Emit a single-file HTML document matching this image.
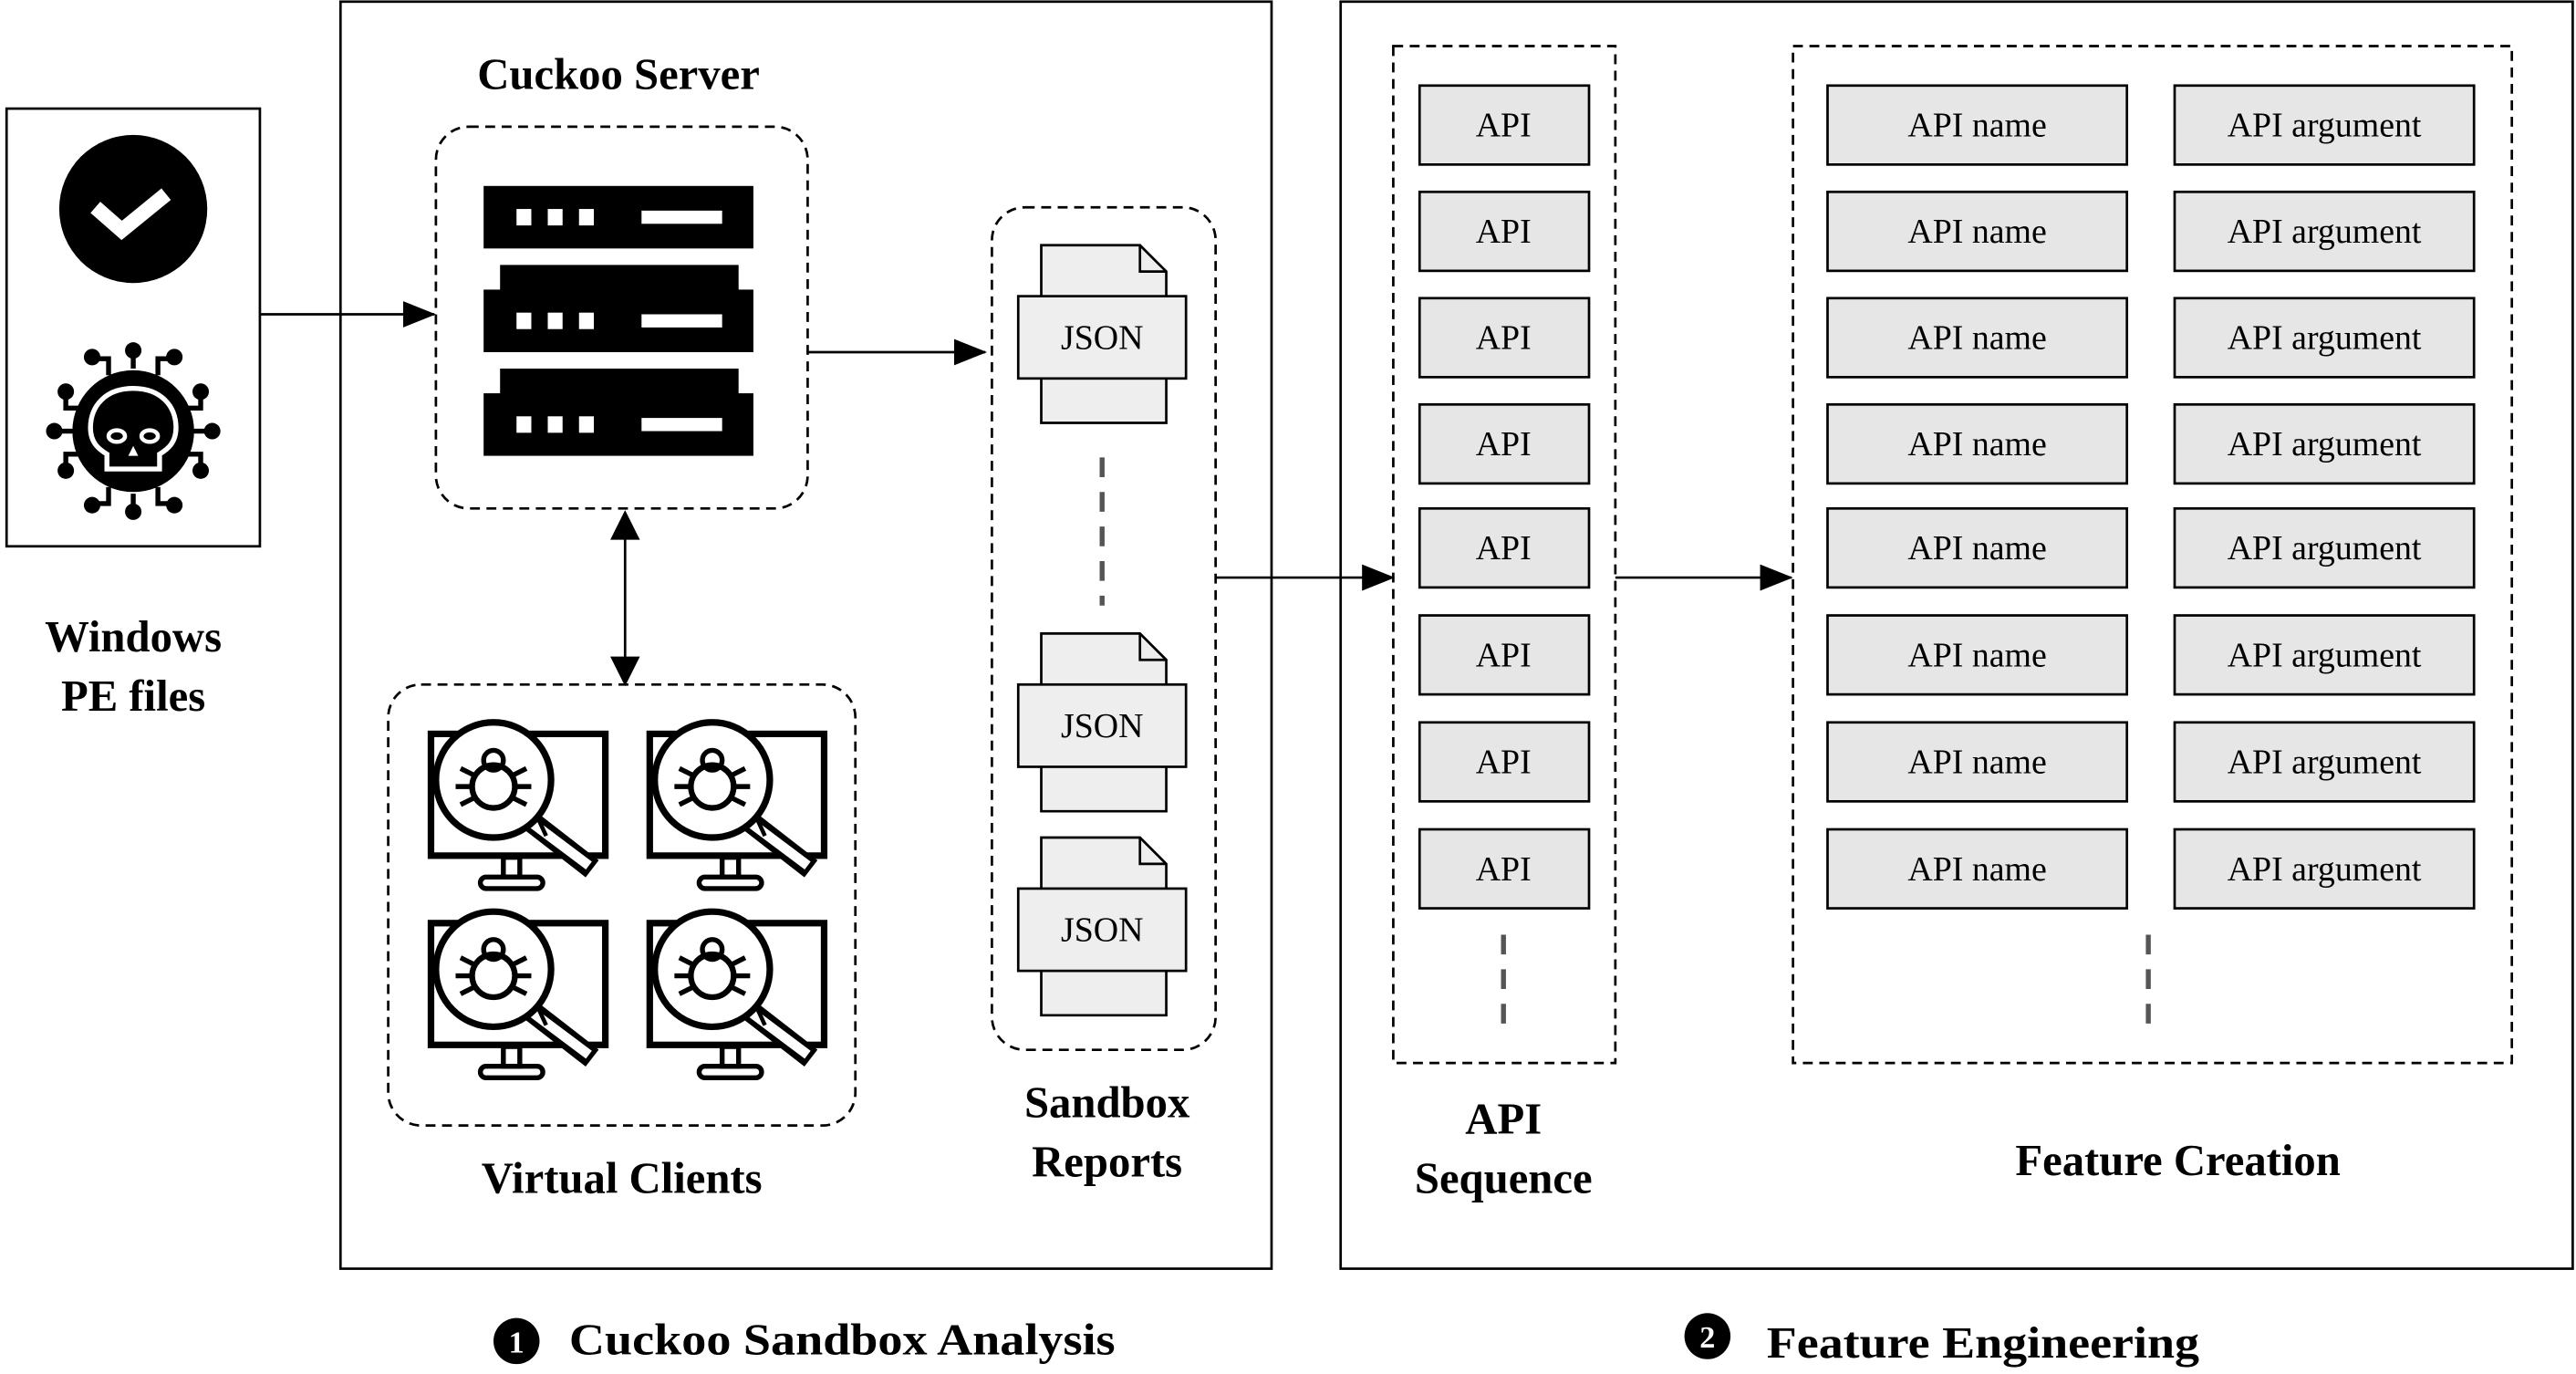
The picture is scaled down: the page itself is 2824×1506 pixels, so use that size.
<!DOCTYPE html>
<html><head><meta charset="utf-8"><style>
html,body{margin:0;padding:0;background:#fff}
svg{display:block;font-family:"Liberation Serif","Times New Roman",serif}
text{font-family:"Liberation Serif","Times New Roman",serif}
.b{font-weight:bold;font-size:27px}
.r{font-size:21px}
</style></head><body>
<svg width="2824" height="1506" viewBox="0 0 1566 835" preserveAspectRatio="none" xmlns="http://www.w3.org/2000/svg" font-family="Liberation Serif, serif">
<defs>
<marker id="ah" markerWidth="20" markerHeight="16" refX="19" refY="8" orient="auto" markerUnits="userSpaceOnUse" viewBox="0 0 20 16"><path d="M0,0 L20,8 L0,16z" fill="#000"/></marker>
<g id="mon">
 <rect x="262" y="446" width="106" height="74" fill="none" stroke="#000" stroke-width="4"/>
 <rect x="306" y="521" width="10" height="12" fill="none" stroke="#000" stroke-width="3"/>
 <rect x="292" y="533" width="38" height="7" rx="3.5" fill="none" stroke="#000" stroke-width="3"/>
 <line x1="320" y1="497" x2="360" y2="528" stroke="#000" stroke-width="13"/>
 <line x1="322" y1="499" x2="358" y2="526" stroke="#fff" stroke-width="6"/>
 <line x1="326" y1="495" x2="332" y2="508" stroke="#000" stroke-width="2.5"/>
 <circle cx="300" cy="474" r="35" fill="#fff" stroke="#000" stroke-width="4"/>
 <circle cx="300" cy="478" r="13" fill="none" stroke="#000" stroke-width="3.5"/>
 <circle cx="300" cy="462" r="6" fill="none" stroke="#000" stroke-width="3"/>
 <path d="M280,467 l8,4 M277,478 h10 M280,489 l8,-4 M320,467 l-8,4 M323,478 h-10 M320,489 l-8,-4" stroke="#000" stroke-width="3" fill="none"/>
</g>
<g id="doc">
 <path d="M633,0 h60 l16,16 v92 h-76z" fill="#eee" stroke="#000" stroke-width="1.5"/>
 <path d="M693,0 v16 h16" fill="none" stroke="#000" stroke-width="1.5"/>
 <rect x="619" y="31" width="102" height="50" fill="#eee" stroke="#000" stroke-width="1.5"/>
</g>
</defs>

<rect x="4" y="66" width="154" height="266" fill="none" stroke="#000" stroke-width="1.5"/>
<circle cx="81" cy="127" r="45" fill="#000"/>
<path d="M58,126 l16,14 l27,-22" fill="none" stroke="#fff" stroke-width="9"/>
<g stroke="#000" stroke-width="3" fill="none">
 <path d="M81,224 v-10 M66,228 v-10 h-8 M96,228 v-10 h8 M50,248 h-10 v-8 M112,248 h10 v-8 M47,262 h-12 M115,262 h12 M50,276 h-10 v8 M112,276 h10 v8 M66,296 v10 h-8 M96,296 v10 h8 M81,300 v10"/>
</g>
<g fill="#000">
 <circle cx="81" cy="213" r="5"/><circle cx="56" cy="217" r="5"/><circle cx="106" cy="217" r="5"/>
 <circle cx="40" cy="238" r="5"/><circle cx="122" cy="238" r="5"/>
 <circle cx="33" cy="262" r="5"/><circle cx="129" cy="262" r="5"/>
 <circle cx="40" cy="286" r="5"/><circle cx="122" cy="286" r="5"/>
 <circle cx="56" cy="307" r="5"/><circle cx="106" cy="307" r="5"/><circle cx="81" cy="311" r="5"/>
 <circle cx="81" cy="262" r="37"/>
</g>
<path d="M81,236 c-17,0 -26,11 -26,24 c0,9 5,13 10,16 v9 h32 v-9 c5,-3 10,-7 10,-16 c0,-13 -9,-24 -26,-24z" fill="none" stroke="#fff" stroke-width="3"/>
<ellipse cx="71" cy="265" rx="5" ry="3.5" fill="none" stroke="#fff" stroke-width="2.5"/>
<ellipse cx="91" cy="265" rx="5" ry="3.5" fill="none" stroke="#fff" stroke-width="2.5"/>
<path d="M81,271 l-3,6 h6z" fill="#fff"/>
<text class="b" x="81" y="396" text-anchor="middle">Windows</text>
<text class="b" x="81" y="432" text-anchor="middle">PE files</text>

<rect x="207" y="1" width="566" height="770" fill="none" stroke="#000" stroke-width="1.5"/>
<text class="b" x="376" y="54" text-anchor="middle">Cuckoo Server</text>
<rect x="265" y="77" width="226" height="232" rx="20" fill="none" stroke="#000" stroke-width="1.5" stroke-dasharray="6,4"/>
<g fill="#000">
 <rect x="294" y="113" width="164" height="38"/>
 <rect x="304" y="161" width="145" height="16"/><rect x="294" y="176" width="164" height="38"/>
 <rect x="304" y="224" width="145" height="16"/><rect x="294" y="239" width="164" height="38"/>
</g>
<g fill="#fff">
 <rect x="314" y="127" width="9" height="10"/><rect x="333" y="127" width="9" height="10"/><rect x="352" y="127" width="9" height="10"/><rect x="390" y="128" width="49" height="8"/>
 <rect x="314" y="190" width="9" height="10"/><rect x="333" y="190" width="9" height="10"/><rect x="352" y="190" width="9" height="10"/><rect x="390" y="191" width="49" height="8"/>
 <rect x="314" y="253" width="9" height="10"/><rect x="333" y="253" width="9" height="10"/><rect x="352" y="253" width="9" height="10"/><rect x="390" y="254" width="49" height="8"/>
</g>
<line x1="158" y1="191" x2="264" y2="191" stroke="#000" stroke-width="1.5" marker-end="url(#ah)"/>
<line x1="380" y1="320" x2="380" y2="406" stroke="#000" stroke-width="1.5"/>
<path d="M380,310 l-9,18 h18z M380,417 l-9,-18 h18z" fill="#000"/>
<rect x="236" y="416" width="284" height="268" rx="20" fill="none" stroke="#000" stroke-width="1.5" stroke-dasharray="6,4"/>
<use href="#mon"/><use href="#mon" x="133"/><use href="#mon" y="115"/><use href="#mon" x="133" y="115"/>
<text class="b" x="378" y="725" text-anchor="middle">Virtual Clients</text>

<rect x="603" y="126" width="136" height="512" rx="20" fill="none" stroke="#000" stroke-width="1.5" stroke-dasharray="6,4"/>
<use href="#doc" y="149"/><use href="#doc" y="385"/><use href="#doc" y="509"/>
<text class="r" x="670" y="212" text-anchor="middle">JSON</text>
<text class="r" x="670" y="448" text-anchor="middle">JSON</text>
<text class="r" x="670" y="572" text-anchor="middle">JSON</text>
<line x1="670" y1="278" x2="670" y2="368" stroke="#555" stroke-width="3" stroke-dasharray="12,9"/>
<text class="b" x="673" y="679" text-anchor="middle">Sandbox</text>
<text class="b" x="673" y="715" text-anchor="middle">Reports</text>
<line x1="491" y1="214" x2="599" y2="214" stroke="#000" stroke-width="1.5" marker-end="url(#ah)"/>
<line x1="739" y1="351" x2="847" y2="351" stroke="#000" stroke-width="1.5" marker-end="url(#ah)"/>

<rect x="815" y="1" width="749" height="770" fill="none" stroke="#000" stroke-width="1.5"/>
<rect x="847" y="28" width="135" height="618" fill="none" stroke="#000" stroke-width="1.5" stroke-dasharray="6,4"/>
<rect x="1090" y="28" width="437" height="618" fill="none" stroke="#000" stroke-width="1.5" stroke-dasharray="6,4"/>
<line x1="982" y1="351" x2="1089" y2="351" stroke="#000" stroke-width="1.5" marker-end="url(#ah)"/>
<g id="row">
 <rect x="863" y="52" width="103" height="48" fill="#e6e6e6" stroke="#000" stroke-width="1.5"/>
 <rect x="1111" y="52" width="182" height="48" fill="#e6e6e6" stroke="#000" stroke-width="1.5"/>
 <rect x="1322" y="52" width="182" height="48" fill="#e6e6e6" stroke="#000" stroke-width="1.5"/>
 <text class="r" x="914" y="83" text-anchor="middle">API</text>
 <text class="r" x="1202" y="83" text-anchor="middle">API name</text>
 <text class="r" x="1413" y="83" text-anchor="middle">API argument</text>
</g>
<use href="#row" y="64.6"/><use href="#row" y="129.2"/><use href="#row" y="193.8"/><use href="#row" y="257"/><use href="#row" y="322"/><use href="#row" y="387"/><use href="#row" y="452"/>
<line x1="914" y1="568" x2="914" y2="628" stroke="#555" stroke-width="3" stroke-dasharray="12,9"/>
<line x1="1306" y1="568" x2="1306" y2="628" stroke="#555" stroke-width="3" stroke-dasharray="12,9"/>
<text class="b" x="914" y="689" text-anchor="middle">API</text>
<text class="b" x="914" y="725" text-anchor="middle">Sequence</text>
<text class="b" x="1324" y="714" text-anchor="middle">Feature Creation</text>

<circle cx="314" cy="815" r="14" fill="#000"/>
<text x="314" y="822" text-anchor="middle" fill="#fff" font-weight="bold" font-size="19">1</text>
<text class="b" x="346" y="823" textLength="332" lengthAdjust="spacingAndGlyphs">Cuckoo Sandbox Analysis</text>
<circle cx="1038" cy="812" r="14" fill="#000"/>
<text x="1038" y="819" text-anchor="middle" fill="#fff" font-weight="bold" font-size="19">2</text>
<text class="b" x="1074" y="825" textLength="263" lengthAdjust="spacingAndGlyphs">Feature Engineering</text>
</svg>
</body></html>
